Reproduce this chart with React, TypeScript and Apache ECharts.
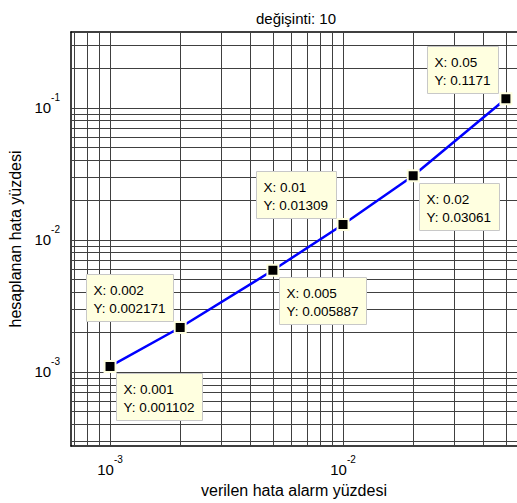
import React, { useEffect, useRef } from "react";
import * as echarts from "echarts";

// ---- data ----
const xValues = [0.001, 0.002, 0.005, 0.01, 0.02, 0.05];
const yValues = [0.001102, 0.002171, 0.005887, 0.01309, 0.03061, 0.1171];
const titleText = "değişinti: 10";
const xAxisName = "verilen hata alarm yüzdesi";
const yAxisName = "hesaplanan hata yüzdesi";
// log-grid: decades and the 1..9 multipliers drawn as grid lines
const gridDecades = [-5, -4, -3, -2, -1, 0];
const gridMultipliers = [1, 2, 3, 4, 5, 6, 7, 8, 9];

// ---- axis ranges (the plot runs past the right edge of the picture) ----
const X_MIN = 0.00068;
const X_MAX = 0.0558;
const Y_MIN = 0.000275;
const Y_MAX = 0.375;

// datatip corner for each point (br = box below-right, tl = box above-left)
const tipCorner = ["br", "tl", "br", "tl", "br", "tl"];

const FONT = "'Liberation Sans', Arial, Helvetica, sans-serif";
const TIP_FONT_SIZE = 13.5;
const TIP_FONT = `${TIP_FONT_SIZE}px 'Liberation Sans', Arial, sans-serif`;

let measureCtx: CanvasRenderingContext2D | null = null;
function measure(text: string): number {
  if (!measureCtx) {
    const c = document.createElement("canvas");
    measureCtx = c.getContext("2d");
  }
  if (!measureCtx) return text.length * TIP_FONT_SIZE * 0.55;
  measureCtx.font = TIP_FONT;
  return measureCtx.measureText(text).width;
}

function gridValues(min: number, max: number): number[] {
  const out: number[] = [];
  for (const d of gridDecades) {
    for (const m of gridMultipliers) {
      const v = m * Math.pow(10, d);
      if (v > min * 1.0001 && v < max * 0.9999) out.push(v);
    }
  }
  return out;
}

function powLabel(v: number): string {
  const e = Math.log10(v);
  const r = Math.round(e);
  if (Math.abs(e - r) > 1e-6) return "";
  return `{b|10}{s|${r}}`;
}

const richTick = {
  b: { fontSize: 15, fontFamily: FONT, color: "#000" },
  s: { fontSize: 10, fontFamily: FONT, color: "#000", padding: [0, 0, 20, 0] },
};

export default function App() {
  const ref = useRef<HTMLDivElement>(null);

  useEffect(() => {
    if (!ref.current) return;
    const chart = echarts.init(ref.current, undefined, { renderer: "svg" });

    const points = xValues.map((x, i) => [x, yValues[i]]);

    const gridLineStyle = { color: "#404040", width: 1, type: "solid" as const };
    const markData = [
      ...gridValues(X_MIN, X_MAX).map((v) => ({ xAxis: v })),
      ...gridValues(Y_MIN, Y_MAX).map((v) => ({ yAxis: v })),
    ];

    const axisLineStyle = { color: "#000", width: 1.5 };

    chart.setOption({
      animation: false,
      backgroundColor: "#fff",
      title: {
        text: titleText,
        left: 251,
        top: 6,
        textStyle: { fontSize: 15, fontWeight: "normal", color: "#000", fontFamily: FONT },
      },
      grid: {
        left: 71,
        top: 32,
        width: 446,
        height: 414,
        show: false,
        outerBoundsMode: "none",
      },
      xAxis: [
        {
          type: "log",
          logBase: 10,
          min: X_MIN,
          max: X_MAX,
          position: "bottom",
          name: xAxisName,
          nameLocation: "middle",
          nameGap: 36,
          nameTextStyle: { fontSize: 16, color: "#000", fontFamily: FONT },
          axisLine: { show: true, lineStyle: axisLineStyle },
          axisTick: { show: false },
          splitLine: { show: false },
          axisLabel: {
            margin: 8,
            formatter: powLabel,
            rich: richTick,
            showMinLabel: false,
            showMaxLabel: false,
          },
        },
        {
          type: "log",
          logBase: 10,
          min: X_MIN,
          max: X_MAX,
          position: "top",
          axisLine: { show: true, lineStyle: axisLineStyle },
          axisTick: { show: false },
          splitLine: { show: false },
          axisLabel: { show: false },
        },
      ],
      yAxis: {
        type: "log",
        logBase: 10,
        min: Y_MIN,
        max: Y_MAX,
        name: yAxisName,
        nameLocation: "middle",
        nameGap: 44,
        nameTextStyle: { fontSize: 16, color: "#000", fontFamily: FONT },
        axisLine: { show: true, lineStyle: axisLineStyle },
        axisTick: { show: false },
        splitLine: { show: false },
        axisLabel: {
          margin: 11,
          formatter: powLabel,
          rich: richTick,
          showMinLabel: false,
          showMaxLabel: false,
        },
      },
      series: [
        {
          type: "line",
          data: [],
          z: 1,
          silent: true,
          markLine: {
            z: 1,
            silent: true,
            animation: false,
            precision: 12,
            symbol: ["none", "none"],
            label: { show: false },
            lineStyle: gridLineStyle,
            emphasis: { disabled: true },
            data: markData,
          },
        },
        {
          type: "line",
          z: 3,
          data: points,
          lineStyle: { color: "#0000ff", width: 2.5 },
          symbol: "rect",
          symbolSize: 11,
          itemStyle: { color: "#000", borderColor: "#ffffe0", borderWidth: 2 },
          emphasis: { disabled: true },
          silent: true,
        },
        {
          type: "custom",
          z: 5,
          clip: false,
          silent: true,
          data: points,
          encode: { x: 0, y: 1 },
          renderItem: (params: any, api: any) => {
            const i = params.dataIndex;
            const xv = api.value(0);
            const yv = api.value(1);
            const [cx, cy] = api.coord([xv, yv]);
            const l1 = `X: ${xv}`;
            const l2 = `Y: ${yv}`;
            const w = Math.round(Math.max(measure(l1), measure(l2)) + 15);
            const h = 47;
            const br = tipCorner[i] === "br";
            const left = Math.round(br ? cx + 6 : cx - 7.5 - w) + 0.5;
            const top = Math.round(br ? cy + 7 : cy - 6 - h) + 0.5;
            const textStyle = {
              font: TIP_FONT,
              fill: "#000",
              align: "left",
              verticalAlign: "middle",
            };
            return {
              type: "group",
              children: [
                {
                  type: "rect",
                  shape: { x: left, y: top, width: w, height: h },
                  style: { fill: "#ffffe0", stroke: "#c8c8c8", lineWidth: 1 },
                },
                {
                  type: "text",
                  x: left + 7,
                  y: top + 15.6,
                  style: { ...textStyle, text: l1 },
                },
                {
                  type: "text",
                  x: left + 7,
                  y: top + 34,
                  style: { ...textStyle, text: l2 },
                },
              ],
            };
          },
        },
      ],
    });

    return () => chart.dispose();
  }, []);

  return (
    <div
      ref={ref}
      style={{ position: "fixed", left: 0, top: 0, width: 517, height: 503 }}
    />
  );
}
